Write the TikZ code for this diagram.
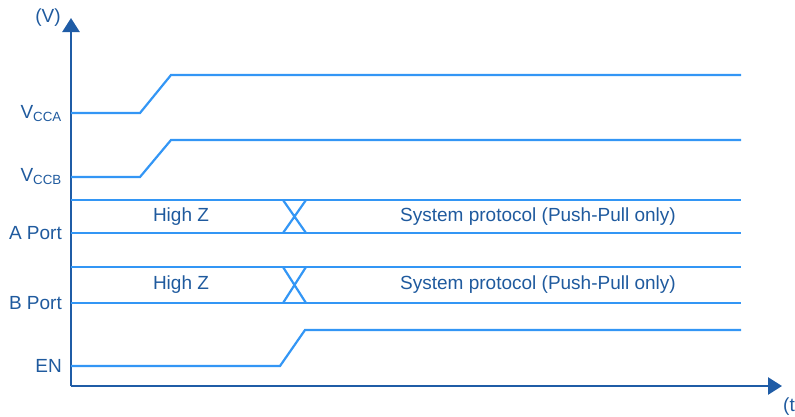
\documentclass[tikz,border=0pt]{standalone}
\usepackage{fontspec}
\setmainfont{Liberation Sans}
\usetikzlibrary{arrows.meta,positioning}
\definecolor{axisblue}{HTML}{1F5CA6}
\definecolor{sigblue}{HTML}{3396F5}
\definecolor{txtblue}{HTML}{1F5A9E}

\begin{document}
\begin{tikzpicture}[x=1pt,y=-1pt,
  axis/.style={draw=axisblue,line width=2.6pt,-{Triangle[length=14pt,width=17pt]}},
  signal/.style={draw=sigblue,line width=2.2pt},
  lbl/.style={text=txtblue,font=\fontsize{19}{22}\selectfont,inner sep=0pt}]
\useasboundingbox (0,0) rectangle (795,416);
\coordinate (origin) at (71,386);
\coordinate (vtip) at (71,18);
\coordinate (ttip) at (782,386);
% axes
\draw[axis] (origin) -- (vtip);
\draw[axis] (origin) -- (ttip);
\node[lbl] (vlabel) at (48,18) {(V)};
\node[lbl,anchor=west] (tlabel) at (783,407) {(t)};
% supplies
\draw[signal] (origin |- 0,113) -- (140,113) -- (171,75) -- (741,75);
\draw[signal] (origin |- 0,177) -- (140,177) -- (171,140) -- (741,140);
\node[lbl,anchor=base east] (vcca) at (62,118) {V\textsubscript{CCA}};
\node[lbl,anchor=base east] (vccb) at (62,181) {V\textsubscript{CCB}};
% A port
\draw[signal] (origin |- 0,200) -- (741,200);
\draw[signal] (origin |- 0,233) -- (741,233);
\draw[signal] (283,233) -- (306,200) (283,200) -- (306,233);
\node[lbl,anchor=east] (aport) at (62,233) {A Port};
\node[lbl] (ahighz) at (181,216.5) {High Z};
\node[lbl] (aproto) at (538,216.5) {System protocol (Push-Pull only)};
% B port
\draw[signal] (origin |- 0,267) -- (741,267);
\draw[signal] (origin |- 0,303) -- (741,303);
\draw[signal] (283,303) -- (306,267) (283,267) -- (306,303);
\node[lbl,anchor=east] (bport) at (62,303) {B Port};
\node[lbl] (bhighz) at (181,284.5) {High Z};
\node[lbl] (bproto) at (538,284.5) {System protocol (Push-Pull only)};
% enable
\draw[signal] (origin |- 0,366) -- (280,366) -- (305,330) -- (741,330);
\node[lbl,anchor=east] (en) at (62,366) {EN};
\end{tikzpicture}
\end{document}
